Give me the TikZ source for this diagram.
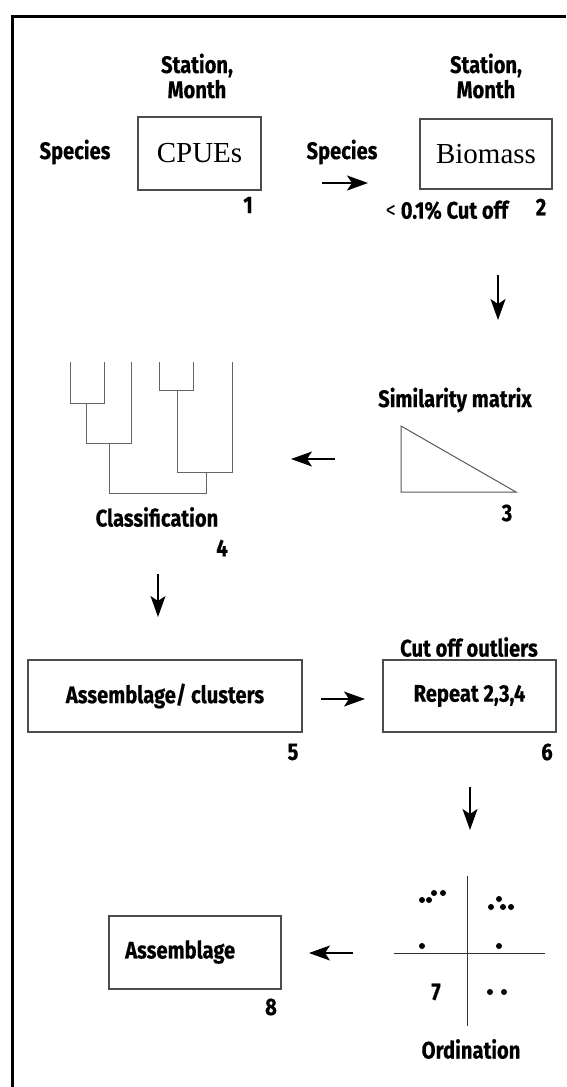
\documentclass[tikz,border=0pt]{standalone}
\usepackage{fontspec}
\setmainfont{Liberation Serif}
\newfontfamily\lblfont[FakeStretch=0.84,BoldFeatures={FakeBold=0.4}]{Fira Sans}
\usetikzlibrary{arrows.meta}

\begin{document}
\begin{tikzpicture}[x=1pt,y=-1pt,
	box/.style={draw=black!70,line width=1.1pt,inner sep=0pt},
	lbl/.style={font=\lblfont\bfseries\fontsize{24}{25}\selectfont,align=center,inner sep=0pt},
	serif/.style={font=\fontsize{29}{30}\selectfont,inner sep=0pt},
	flow/.style={-{Stealth[length=21pt,width=15pt,inset=5pt]},line width=1.8pt},
	tree/.style={draw=black!60,line width=1pt}]
	\useasboundingbox (0,0) rectangle (566,1087);
	% frame
	\draw[line width=3pt] (12.5,1087) -- (12.5,16) -- (566,16);
	% step 1 and 2
	\node[box,minimum width=123pt,minimum height=73pt] (cpue) at (199.5,153.5) {};
	\node[serif] (cpuetxt) at (cpue.center) {CPUEs};
	\node[box,minimum width=132pt,minimum height=70pt] (biom) at (486,154) {};
	\node[serif] (biomtxt) at (biom.center) {Biomass};
	\node[lbl] (stm1) at (197,76) {Station,\\Month};
	\node[lbl] (stm2) at (486,76) {Station,\\Month};
	\node[lbl] (spc1) at (75,152) {Species};
	\node[lbl] (spc2) at (342,152) {Species};
	\node[lbl] (cut) at (447,210) {{\mdseries<} 0.1\% Cut off};
	\node[lbl] (n1) at (248,205) {1};
	\node[lbl] (n2) at (541,207) {2};
	% step 3
	\node[lbl] (sim) at (455,400) {Similarity matrix};
	\draw[black!65,line width=1pt] (401,426) -- (401,492) -- (516,492) -- cycle;
	\node[lbl] (n3) at (507,513) {3};
	% step 4, dendrogram
	\draw[tree] (70,362) |- (104,403) -- (104,362);
	\draw[tree] (86,403) |- (131,443) -- (131,362);
	\draw[tree] (159,362) |- (193,390) -- (193,362);
	\draw[tree] (177,390) |- (232,472) -- (232,362);
	\draw[tree] (109,443) |- (206,493) -- (206,472);
	\node[lbl] (clas) at (157,517) {Classification};
	\node[lbl] (n4) at (222,548) {4};
	% step 5 and 6
	\node[box,minimum width=274pt,minimum height=72pt] (asc) at (165,696) {};
	\node[lbl] (asctxt) at (asc.center) {Assemblage/ clusters};
	\node[box,minimum width=173pt,minimum height=72pt] (rep) at (469.5,696) {};
	\node[lbl] (reptxt) at (rep.center) {Repeat 2,3,4};
	\node[lbl] (outl) at (469,647) {Cut off outliers};
	\node[lbl] (n5) at (293,752) {5};
	\node[lbl] (n6) at (547,752) {6};
	% step 7, ordination
	\draw[black!80,line width=1pt] (467,876) -- (467,1026);
	\draw[black!80,line width=1pt] (394,953) -- (545,953);
	\foreach \p in {(422,900),(429,900),(434,893),(443,893),(499,899),(491,907),(503,907),(511,907),(422,946),(499,946),(490,992),(504,992)}
	\fill \p circle (3);
	\node[lbl] (n7) at (436,992) {7};
	\node[lbl] (ord) at (471,1049) {Ordination};
	% step 8
	\node[box,minimum width=172pt,minimum height=73pt] (asm) at (195,952.5) {};
	\node[lbl,anchor=west] (asmtxt) at (125,952) {Assemblage};
	\node[lbl] (n8) at (271,1007) {8};
	% arrows
	\coordinate (a1s) at (322,183); \coordinate (a1e) at (368,183);
	\coordinate (a2s) at (498,275); \coordinate (a2e) at (498,320);
	\coordinate (a3s) at (335,459); \coordinate (a3e) at (291,459);
	\coordinate (a4s) at (158,574); \coordinate (a4e) at (158,617);
	\coordinate (a5s) at (321,699); \coordinate (a5e) at (365,699);
	\coordinate (a6s) at (470,787); \coordinate (a6e) at (470,830);
	\coordinate (a7s) at (353,953); \coordinate (a7e) at (309,953);
	\draw[flow] (a1s) -- (a1e);
	\draw[flow] (a2s) -- (a2e);
	\draw[flow] (a3s) -- (a3e);
	\draw[flow] (a4s) -- (a4e);
	\draw[flow] (a5s) -- (a5e);
	\draw[flow] (a6s) -- (a6e);
	\draw[flow] (a7s) -- (a7e);
\end{tikzpicture}
\end{document}
